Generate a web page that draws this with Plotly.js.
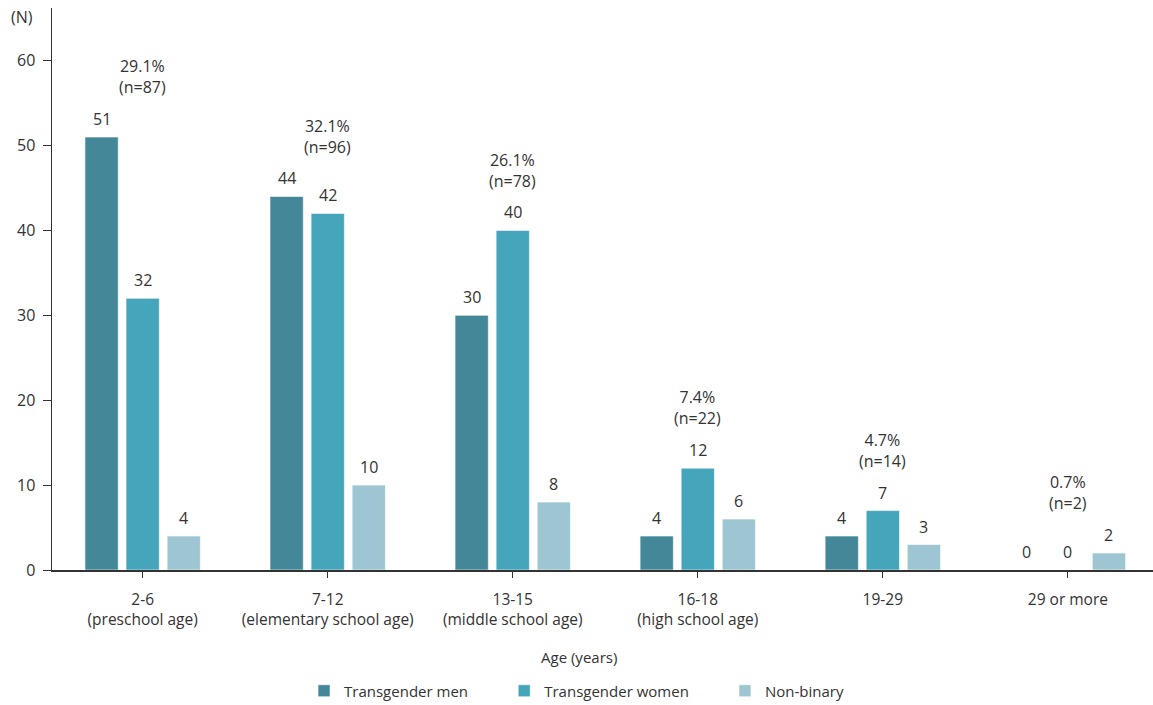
<!DOCTYPE html>
<html>
<head>
<meta charset="utf-8">
<script src="https://cdn.plot.ly/plotly-3.0.1.min.js"></script>
<style>html,body{margin:0;padding:0;background:#fff;}#chart{width:1153px;height:705px;}</style>
</head>
<body>
<div id="chart"></div>
<script>
const categories = ["2-6<br>(preschool age)", "7-12<br>(elementary school age)", "13-15<br>(middle school age)", "16-18<br>(high school age)", "19-29", "29 or more"];
const transMen = [51, 44, 30, 4, 4, 0];
const transWomen = [32, 42, 40, 12, 7, 0];
const nonBinary = [4, 10, 8, 6, 3, 2];
const groupPct = ["29.1%", "32.1%", "26.1%", "7.4%", "4.7%", "0.7%"];
const groupN = [87, 96, 78, 22, 14, 2];
const seriesNames = ["Transgender men", "Transgender women", "Non-binary"];
const colors = ["#448798", "#44a5bb", "#9dc6d2"];
const yTicks = [0, 10, 20, 30, 40, 50, 60];

const font = "'Open Sans', 'Noto Sans', sans-serif";
const txt = "#333333";
const seriesData = [transMen, transWomen, nonBinary];
const xIdx = categories.map((_, i) => i);
const pad = '\u00a0'.repeat(8);

const traces = seriesData.map((vals, s) => ({
  type: 'bar', name: seriesNames[s] + (s < 2 ? pad : ''), x: xIdx, y: vals,
  marker: {color: colors[s], line: {color: 'rgba(255,255,255,0.6)', width: 1}},
  hoverinfo: 'skip'
}));

const slot = 0.222;
const annotations = [];
seriesData.forEach((vals, s) => {
  vals.forEach((v, i) => {
    annotations.push({
      x: i + (s - 1) * slot, y: v, xref: 'x', yref: 'y', text: String(v),
      showarrow: false, yanchor: 'bottom', yshift: 5,
      font: {family: font, size: 16, color: txt}
    });
  });
});
groupPct.forEach((p, i) => {
  const m = Math.max(transMen[i], transWomen[i], nonBinary[i]);
  annotations.push({
    x: i, y: m + 7.1, xref: 'x', yref: 'y', text: p + '<br>(n=' + groupN[i] + ')',
    showarrow: false, yanchor: 'middle', xanchor: 'center',
    font: {family: font, size: 16, color: txt}
  });
});
annotations.push({
  x: 0, y: 1, xref: 'paper', yref: 'paper', xanchor: 'right', yanchor: 'middle',
  xshift: -17, yshift: -9, text: '(N)', showarrow: false,
  font: {family: font, size: 16, color: txt}
});
annotations.push({
  x: 0.4787, y: 0, xref: 'paper', yref: 'paper', xanchor: 'center', yanchor: 'middle',
  yshift: -87, text: 'Age (years)', showarrow: false,
  font: {family: font, size: 15, color: txt}
});

const layout = {
  width: 1153, height: 705,
  margin: {l: 52, r: 0, t: 8, b: 135},
  paper_bgcolor: '#fff', plot_bgcolor: '#fff',
  barmode: 'group', bargap: 0.334, bargroupgap: 0.19,
  showlegend: true,
  legend: {orientation: 'h', xref: 'container', yref: 'container', x: 0.2637, xanchor: 'left', y: 0.0199, yanchor: 'middle',
    font: {family: font, size: 15, color: txt}, itemwidth: 30, traceorder: 'normal'},
  xaxis: {
    range: [-0.49, 5.46], tickmode: 'array', tickvals: xIdx, ticktext: categories,
    ticks: 'outside', ticklen: 6, tickcolor: '#333', showline: true, linecolor: '#333', linewidth: 1.5,
    showgrid: false, zeroline: false, tickfont: {family: font, size: 15.5, color: txt},
    ticklabelstandoff: 9, automargin: false
  },
  yaxis: {
    range: [0, 66.2], tickmode: 'array', tickvals: yTicks,
    ticks: 'outside', ticklen: 8, tickcolor: '#333', showline: true, linecolor: '#333', linewidth: 1.5,
    showgrid: false, zeroline: false, tickfont: {family: font, size: 16, color: txt},
    ticklabelstandoff: 4, automargin: false
  },
  annotations: annotations
};

Plotly.newPlot('chart', traces, layout, {displayModeBar: false, staticPlot: true});
</script>
</body>
</html>
